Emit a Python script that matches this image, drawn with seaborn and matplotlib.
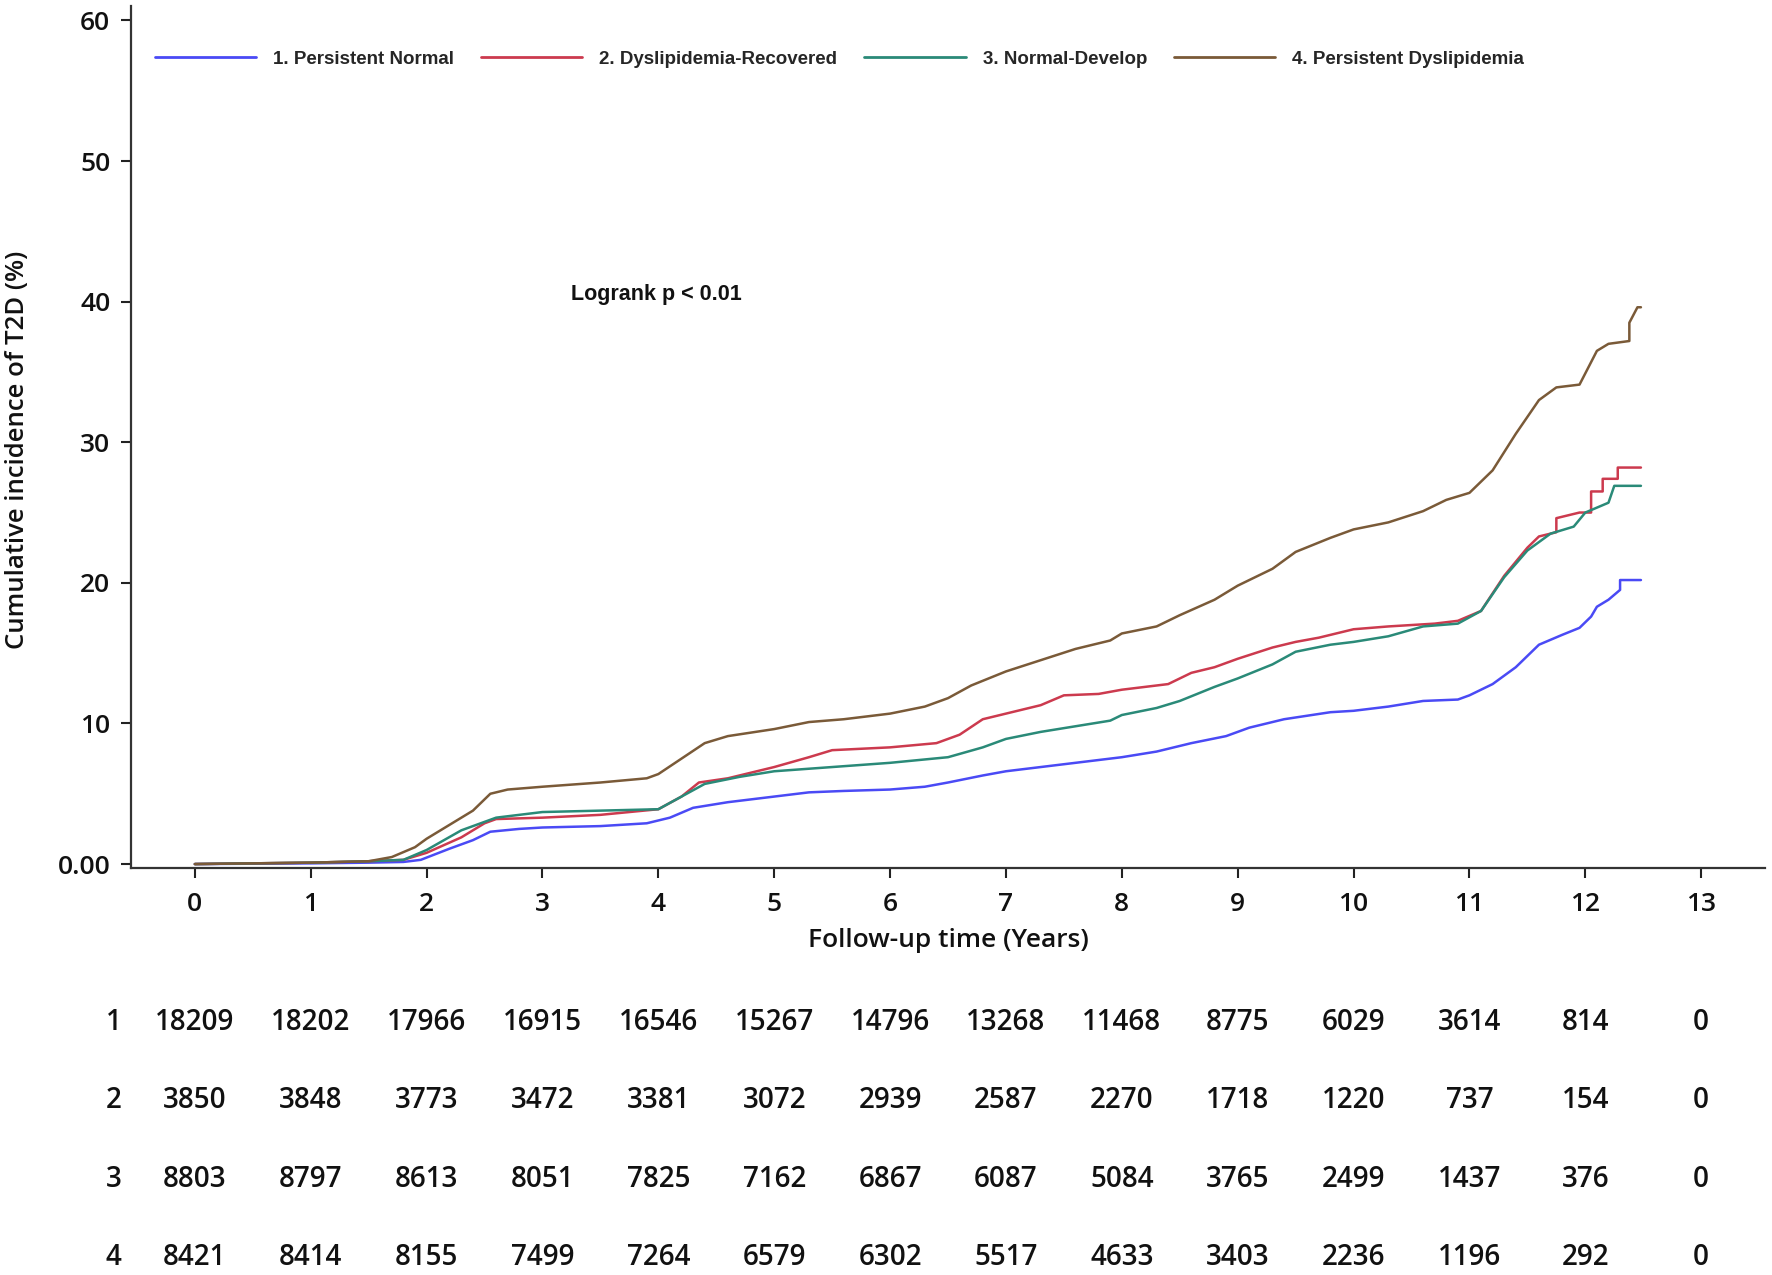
import matplotlib
matplotlib.use("Agg")
import matplotlib.pyplot as plt
import matplotlib.transforms as mtransforms
import seaborn as sns
import pandas as pd

# ---- data ----
groups = ["1. Persistent Normal", "2. Dyslipidemia-Recovered",
          "3. Normal-Develop", "4. Persistent Dyslipidemia"]
colors = ["#4a4af5", "#cc3a4e", "#2a8a78", "#7a5a38"]

t_normal = [0, 1.0, 1.5, 1.8, 1.95, 2.2, 2.4, 2.55, 2.8, 3.0, 3.5, 3.9, 4.1, 4.3, 4.6, 5.0, 5.3, 5.6,
            6.0, 6.3, 6.5, 6.8, 7.0, 7.3, 7.6, 8.0, 8.3, 8.6, 8.9, 9.1, 9.4, 9.8, 10.0, 10.3, 10.6,
            10.9, 11.0, 11.2, 11.4, 11.6, 11.8, 11.95, 12.05, 12.1, 12.2, 12.3, 12.3, 12.48]
v_normal = [0, 0.05, 0.1, 0.15, 0.3, 1.1, 1.7, 2.3, 2.5, 2.6, 2.7, 2.9, 3.3, 4.0, 4.4, 4.8, 5.1, 5.2,
            5.3, 5.5, 5.8, 6.3, 6.6, 6.9, 7.2, 7.6, 8.0, 8.6, 9.1, 9.7, 10.3, 10.8, 10.9, 11.2, 11.6,
            11.7, 12.0, 12.8, 14.0, 15.6, 16.3, 16.8, 17.6, 18.3, 18.8, 19.5, 20.2, 20.2]

t_recov = [0, 1.0, 1.5, 1.8, 2.0, 2.3, 2.5, 2.6, 3.0, 3.5, 4.0, 4.2, 4.35, 4.6, 5.0, 5.3, 5.5, 6.0,
           6.4, 6.6, 6.8, 7.0, 7.3, 7.5, 7.8, 8.0, 8.4, 8.6, 8.8, 9.0, 9.3, 9.5, 9.7, 10.0, 10.3,
           10.7, 10.9, 11.1, 11.3, 11.5, 11.6, 11.75, 11.75, 11.95, 12.05, 12.05, 12.15, 12.15,
           12.28, 12.28, 12.48]
v_recov = [0, 0.1, 0.2, 0.3, 0.8, 1.9, 2.9, 3.2, 3.3, 3.5, 3.9, 4.8, 5.8, 6.1, 6.9, 7.6, 8.1, 8.3,
           8.6, 9.2, 10.3, 10.7, 11.3, 12.0, 12.1, 12.4, 12.8, 13.6, 14.0, 14.6, 15.4, 15.8, 16.1,
           16.7, 16.9, 17.1, 17.3, 18.0, 20.5, 22.5, 23.3, 23.6, 24.6, 25.0, 25.0, 26.5, 26.5, 27.4,
           27.4, 28.2, 28.2]

t_develop = [0, 1.0, 1.5, 1.8, 2.0, 2.3, 2.6, 3.0, 3.5, 4.0, 4.2, 4.4, 4.7, 5.0, 5.5, 6.0, 6.5, 6.8,
             7.0, 7.3, 7.6, 7.9, 8.0, 8.3, 8.5, 8.8, 9.0, 9.3, 9.5, 9.8, 10.0, 10.3, 10.6, 10.9,
             11.1, 11.3, 11.5, 11.7, 11.9, 12.0, 12.2, 12.25, 12.48]
v_develop = [0, 0.1, 0.2, 0.3, 1.0, 2.4, 3.3, 3.7, 3.8, 3.9, 4.8, 5.7, 6.2, 6.6, 6.9, 7.2, 7.6, 8.3,
             8.9, 9.4, 9.8, 10.2, 10.6, 11.1, 11.6, 12.6, 13.2, 14.2, 15.1, 15.6, 15.8, 16.2, 16.9,
             17.1, 18.0, 20.4, 22.3, 23.5, 24.0, 25.0, 25.7, 26.9, 26.9]

t_persist = [0, 1.0, 1.5, 1.7, 1.9, 2.0, 2.2, 2.4, 2.55, 2.7, 3.0, 3.5, 3.9, 4.0, 4.2, 4.4, 4.6, 5.0,
             5.3, 5.6, 6.0, 6.3, 6.5, 6.7, 7.0, 7.3, 7.6, 7.9, 8.0, 8.3, 8.5, 8.8, 9.0, 9.3, 9.5,
             9.8, 10.0, 10.3, 10.6, 10.8, 11.0, 11.2, 11.4, 11.6, 11.75, 11.95, 12.1, 12.2, 12.38,
             12.38, 12.45, 12.48]
v_persist = [0, 0.1, 0.2, 0.5, 1.2, 1.8, 2.8, 3.8, 5.0, 5.3, 5.5, 5.8, 6.1, 6.4, 7.5, 8.6, 9.1, 9.6,
             10.1, 10.3, 10.7, 11.2, 11.8, 12.7, 13.7, 14.5, 15.3, 15.9, 16.4, 16.9, 17.7, 18.8,
             19.8, 21.0, 22.2, 23.2, 23.8, 24.3, 25.1, 25.9, 26.4, 28.0, 30.6, 33.0, 33.9, 34.1,
             36.5, 37.0, 37.2, 38.5, 39.6, 39.6]

risk_years = list(range(14))
risk_normal = [18209, 18202, 17966, 16915, 16546, 15267, 14796, 13268, 11468, 8775, 6029, 3614, 814, 0]
risk_recov = [3850, 3848, 3773, 3472, 3381, 3072, 2939, 2587, 2270, 1718, 1220, 737, 154, 0]
risk_develop = [8803, 8797, 8613, 8051, 7825, 7162, 6867, 6087, 5084, 3765, 2499, 1437, 376, 0]
risk_persist = [8421, 8414, 8155, 7499, 7264, 6579, 6302, 5517, 4633, 3403, 2236, 1196, 292, 0]
risk_labels = ["1", "2", "3", "4"]

x_ticks = list(range(14))
y_ticks = [0, 10, 20, 30, 40, 50, 60]
y_ticklabels = ["0.00", "10", "20", "30", "40", "50", "60"]

# ---- build long data ----
frames = []
for g, t, v in zip(groups, [t_normal, t_recov, t_develop, t_persist],
                   [v_normal, v_recov, v_develop, v_persist]):
    frames.append(pd.DataFrame({"time": t, "inc": v, "group": g}))
df = pd.concat(frames, ignore_index=True)

sns.set_theme(style="ticks")
plt.rcParams["font.family"] = ["Open Sans", "DejaVu Sans"]

fig = plt.figure(figsize=(17.72, 12.75), dpi=100)
ax = fig.add_axes([0.074, 0.319, 0.922, 0.676])

sns.lineplot(data=df, x="time", y="inc", hue="group", palette=dict(zip(groups, colors)),
             estimator=None, sort=False, units="group", linewidth=1.8, ax=ax, legend=True)

ax.set_xlim(-0.55, 13.55)
ax.set_ylim(-0.3, 61)
ax.set_xticks(x_ticks)
ax.set_xticklabels([str(x) for x in x_ticks])
ax.set_yticks(y_ticks)
ax.set_yticklabels(y_ticklabels)
ax.tick_params(axis="both", labelsize=19, colors="#222222", width=1.5, length=7, pad=8,
               labelcolor="#111111")
ax.tick_params(axis="x", pad=10)
for lab in ax.get_xticklabels() + ax.get_yticklabels():
    lab.set_fontweight("semibold")
for s in ["top", "right"]:
    ax.spines[s].set_visible(False)
for s in ["left", "bottom"]:
    ax.spines[s].set_linewidth(1.6)
    ax.spines[s].set_color("#333333")

ax.set_xlabel("Follow-up time (Years)", fontsize=19, fontweight="semibold", labelpad=8,
              color="#111111")
ax.set_ylabel("Cumulative incidence of T2D (%)", fontsize=18.5, fontweight="semibold",
              color="#111111")
ax.yaxis.set_label_coords(-0.062, 0.486)

handles, labels = ax.get_legend_handles_labels()
for h in handles:
    h.set_linewidth(2.0)
ax.legend(handles, labels, ncol=4, loc="center left", bbox_to_anchor=(0.0145, 0.939),
          frameon=False, handlelength=5.4, handletextpad=0.9, columnspacing=1.45,
          borderpad=0, borderaxespad=0,
          prop={"family": "Liberation Sans", "weight": "bold", "size": 13.5})

ax.text(3.98, 40.5, "Logrank p < 0.01", ha="center", va="center", fontsize=15.5,
        fontweight="bold", family="Liberation Sans", color="#111111")

# ---- number at risk table ----
trans = mtransforms.blended_transform_factory(ax.transData, fig.transFigure)
row_y = [0.198, 0.137, 0.075, 0.014]
for lab, counts, yy in zip(risk_labels, [risk_normal, risk_recov, risk_develop, risk_persist], row_y):
    ax.text(-0.70, yy, lab, transform=trans, ha="center", va="center", fontsize=20,
            fontweight="semibold", color="#111111", clip_on=False)
    for x, c in zip(risk_years, counts):
        ax.text(x, yy, str(c), transform=trans, ha="center", va="center", fontsize=20,
                fontweight="semibold", color="#111111", clip_on=False)

fig.savefig("out.png", dpi=100)
